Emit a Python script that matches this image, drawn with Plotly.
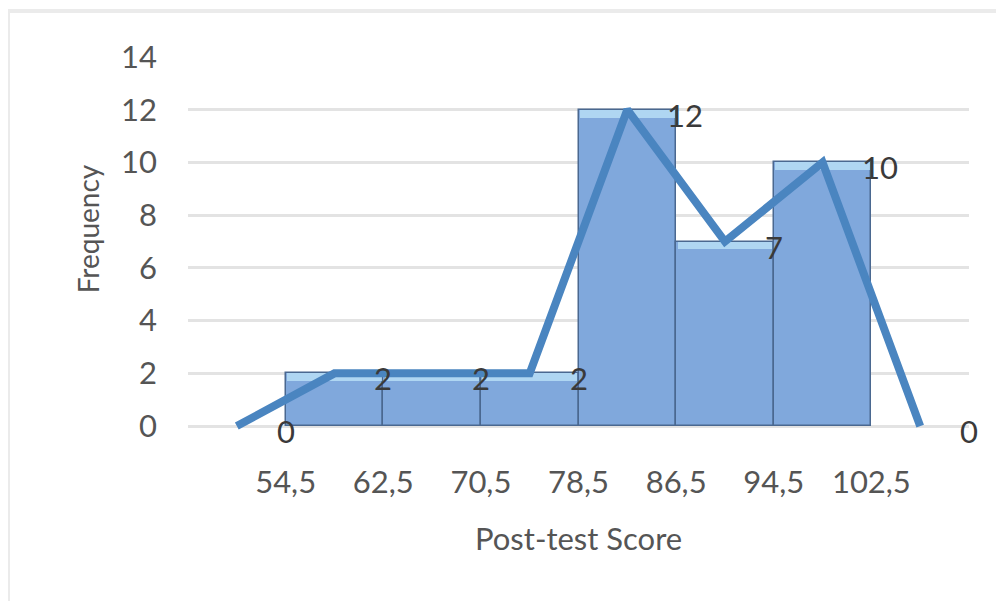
import plotly.graph_objects as go

# ---- data ----
bin_edges = ["54,5", "62,5", "70,5", "78,5", "86,5", "94,5", "102,5"]
bar_freq = [2, 2, 2, 12, 7, 10]            # histogram bars (classes 2..7)
polygon_freq = [0, 2, 2, 2, 12, 7, 10, 0]  # frequency polygon (classes 1..8)
x_title = "Post-test Score"
y_title = "Frequency"

n_cls = len(polygon_freq)
poly_x = list(range(1, n_cls + 1))
bar_x = poly_x[1:-1]
edge_x = [i + 0.5 for i in range(1, n_cls)]

FONT = "Lato"
GREY = "#555555"
FS = 31

fig = go.Figure()
fig.add_trace(go.Bar(
    x=bar_x, y=bar_freq, width=1,
    marker=dict(color="#80a8dc", line=dict(color="#4a6890", width=1.5)),
    showlegend=False, hoverinfo="skip",
))
# light sheen at the top of each bar (Excel-style gradient highlight)
hl = 0.3
fig.add_trace(go.Bar(
    x=bar_x, y=[hl] * len(bar_freq), base=[v - hl for v in bar_freq], width=0.97,
    marker=dict(color="#bfe6fa", opacity=0.75, line=dict(width=0)),
    showlegend=False, hoverinfo="skip",
))
fig.add_trace(go.Scatter(
    x=poly_x, y=polygon_freq, mode="lines",
    line=dict(color="#4a85c0", width=8, shape="linear"),
    showlegend=False,
))

for xv, yv in zip(poly_x, polygon_freq):
    fig.add_annotation(
        x=xv + 0.5, y=yv, text=str(yv), showarrow=False,
        xanchor="left", xshift=-11, yshift=-5,
        font=dict(family=FONT, size=FS, color="#3a3a3a"),
    )

# axis titles
fig.add_annotation(xref="paper", yref="paper", x=0.5, y=-0.275, yanchor="middle",
                   text=x_title, showarrow=False,
                   font=dict(family=FONT, size=FS, color=GREY))
fig.add_annotation(xref="paper", yref="paper", x=-0.128, y=0.543, xanchor="center",
                   yanchor="middle", textangle=-90,
                   text=y_title, showarrow=False,
                   font=dict(family=FONT, size=28, color=GREY))

fig.update_layout(
    width=1004, height=601,
    margin=dict(l=180, r=43, t=49, b=175),
    paper_bgcolor="white", plot_bgcolor="white",
    barmode="overlay", bargap=0,
    font=dict(family=FONT, size=FS, color=GREY),
    shapes=[dict(type="rect", xref="paper", yref="paper",
                 x0=-0.2305, x1=1.2, y0=-0.6, y1=1.122,
                 line=dict(color="#ebebeb", width=4), layer="below")],
)
fig.update_xaxes(
    range=[0.5, n_cls + 0.5],
    tickmode="array", tickvals=edge_x, ticktext=bin_edges,
    showgrid=False, zeroline=False, showline=False, ticks="",
    ticklabelstandoff=27,
    tickfont=dict(family=FONT, size=FS, color=GREY),
)
fig.update_yaxes(
    range=[-0.3, 14], tickmode="array", tickvals=list(range(0, 15, 2)),
    showgrid=True, gridcolor="#e3e3e3", gridwidth=3,
    zeroline=False, showline=False, ticks="",
    ticklabelstandoff=30,
    tickfont=dict(family=FONT, size=FS, color=GREY),
)

fig.write_html("out.html")
